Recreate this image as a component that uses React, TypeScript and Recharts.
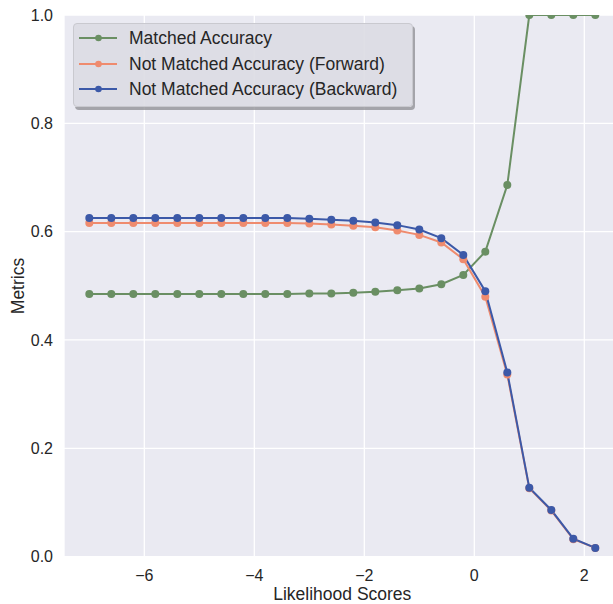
import React from 'react';
import { LineChart, Line, XAxis, YAxis, CartesianGrid, Legend, Label } from 'recharts';

const xValues = [-7.0, -6.6, -6.2, -5.8, -5.4, -5.0, -4.6, -4.2, -3.8, -3.4, -3.0, -2.6, -2.2, -1.8, -1.4, -1.0, -0.6, -0.2, 0.2, 0.6, 1.0, 1.4, 1.8, 2.2];
const matchedAccuracy = [0.485, 0.485, 0.485, 0.485, 0.485, 0.485, 0.485, 0.485, 0.485, 0.485, 0.486, 0.486, 0.487, 0.489, 0.492, 0.495, 0.503, 0.520, 0.563, 0.686, 1.0, 1.0, 1.0, 1.0];
const forwardAccuracy = [0.616, 0.616, 0.616, 0.616, 0.616, 0.616, 0.616, 0.616, 0.616, 0.616, 0.615, 0.613, 0.611, 0.608, 0.602, 0.594, 0.580, 0.549, 0.480, 0.336, 0.126, 0.085, 0.032, 0.016];
const backwardAccuracy = [0.625, 0.625, 0.625, 0.625, 0.625, 0.625, 0.625, 0.625, 0.625, 0.625, 0.624, 0.622, 0.620, 0.617, 0.612, 0.604, 0.588, 0.557, 0.490, 0.340, 0.127, 0.086, 0.033, 0.016];
const xTicks = [-6, -4, -2, 0, 2];
const yTicks = [0, 0.2, 0.4, 0.6, 0.8, 1.0];
const seriesKeys = ['matched', 'forward', 'backward'];
const seriesNames = ['Matched Accuracy', 'Not Matched Accuracy (Forward)', 'Not Matched Accuracy (Backward)'];
const seriesColors = ['#6a8f63', '#ef8b6e', '#3c59a8'];

const data = xValues.map((x, i) => ({
  x,
  matched: matchedAccuracy[i],
  forward: forwardAccuracy[i],
  backward: backwardAccuracy[i],
}));

const TEXT = '#262626';

const renderLegend = (props: any) => {
  const payload = (props.payload || []).slice().sort(
    (a: any, b: any) => seriesNames.indexOf(a.value) - seriesNames.indexOf(b.value)
  );
  return (
    <div
      style={{
        width: 340,
        height: 84,
        boxSizing: 'border-box',
        background: 'rgba(219,219,227,0.9)',
        border: '1px solid #c9c9cf',
        borderRadius: 4,
        boxShadow: '2px 3px 0 rgba(140,140,146,0.75)',
        position: 'relative',
        fontSize: 17.5,
        color: TEXT,
      }}
    >
      {payload.map((entry: any, i: number) => (
        <div
          key={entry.value}
          style={{
            position: 'absolute',
            left: 0,
            top: 1 + 25.5 * i,
            height: 26,
            display: 'flex',
            alignItems: 'center',
            whiteSpace: 'nowrap',
          }}
        >
          <svg width={50} height={26} style={{ display: 'block' }}>
            <line x1={5} x2={43} y1={13} y2={13} stroke={entry.color} strokeWidth={2} />
            <circle cx={24.5} cy={13} r={3.3} fill={entry.color} />
          </svg>
          <span style={{ marginLeft: 5.5, lineHeight: '26px' }}>{entry.value}</span>
        </div>
      ))}
    </div>
  );
};

const fmtX = (v: number) => String(v).replace('-', '\u2212');
const fmtY = (v: number) => v.toFixed(1);

export default function App() {
  return (
    <div
      style={{
        position: 'absolute',
        left: 0,
        top: 0,
        width: 613,
        height: 604,
        overflow: 'hidden',
        background: '#ffffff',
        fontFamily: '"Liberation Sans", Arial, sans-serif',
      }}
    >
      <LineChart
        width={640}
        height={604}
        data={data}
        margin={{ top: 15, right: 19.4, left: 0, bottom: 0 }}
      >
        <CartesianGrid stroke="#ffffff" strokeWidth={1.3} fill="#eaeaf2" vertical horizontal />
        <XAxis
          dataKey="x"
          type="number"
          domain={[-7.46, 2.66]}
          ticks={xTicks}
          allowDataOverflow
          tickLine={false}
          axisLine={false}
          tickMargin={7}
          height={47.4}
          tick={{ fill: TEXT, fontSize: 16 }}
          tickFormatter={fmtX}
        >
          <Label
            content={(p: any) => {
              const vb = p.viewBox || {};
              return (
                <text x={vb.x + vb.width / 2} y={vb.y + 43.4} textAnchor="middle" fill={TEXT} fontSize={17.5}>
                  Likelihood Scores
                </text>
              );
            }}
          />
        </XAxis>
        <YAxis
          type="number"
          domain={[0, 1]}
          ticks={yTicks}
          allowDataOverflow
          tickLine={false}
          axisLine={false}
          tickMargin={5}
          width={64}
          tick={{ fill: TEXT, fontSize: 16 }}
          tickFormatter={fmtY}
        >
          <Label
            content={() => (
              <text x={24} y={286} transform="rotate(-90 24 286)" textAnchor="middle" fill={TEXT} fontSize={17.5}>
                Metrics
              </text>
            )}
          />
        </YAxis>
        <Legend
          layout="vertical"
          align="center"
          verticalAlign="middle"
          width={340}
          height={84}
          content={renderLegend}
          wrapperStyle={{ left: 72.5, top: 23, width: 340, height: 84 }}
        />
        {seriesKeys.map((k, i) => (
          <Line
            key={k}
            dataKey={k}
            name={seriesNames[i]}
            type="linear"
            stroke={seriesColors[i]}
            strokeWidth={2}
            dot={{ r: 4, fill: seriesColors[i], stroke: seriesColors[i], strokeWidth: 0 }}
            activeDot={false}
            isAnimationActive={false}
          />
        ))}
      </LineChart>
    </div>
  );
}
